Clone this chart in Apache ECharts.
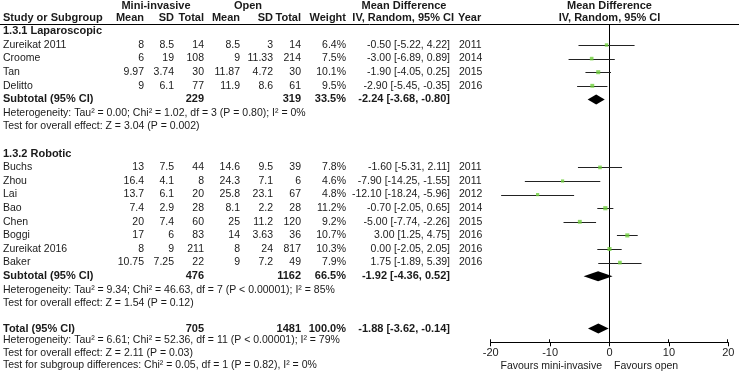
<!DOCTYPE html>
<html><head><meta charset="utf-8">
<script src="https://cdn.jsdelivr.net/npm/echarts@6.0.0/dist/echarts.min.js"></script>
<style>html,body{margin:0;padding:0;background:#fff}#c{width:739px;height:379px}</style>
</head><body><div id="c"></div>
<script>
// ---- data ----
var studies = ['Zureikat 2011','Croome','Tan','Delitto','Buchs','Zhou','Lai','Bao','Chen','Boggi','Zureikat 2016','Baker'];
var studyGroup = [0,0,0,0,1,1,1,1,1,1,1,1];
var miMean = [8,6,9.97,9,13,16.4,13.7,7.4,20,17,8,10.75];
var miSD = [8.5,19,3.74,6.1,7.5,4.1,6.1,2.9,7.4,6,9,7.25];
var miTotal = [14,108,30,77,44,8,20,28,60,83,211,22];
var opMean = [8.5,9,11.87,11.9,14.6,24.3,25.8,8.1,25,14,8,9];
var opSD = [3,11.33,4.72,8.6,9.5,7.1,23.1,2.2,11.2,3.63,24,7.2];
var opTotal = [14,214,30,61,39,6,67,28,120,36,817,49];
var weights = [6.4,7.5,10.1,9.5,7.8,4.6,4.8,11.2,9.2,10.7,10.3,7.9];
var md = [-0.50,-3.00,-1.90,-2.90,-1.60,-7.90,-12.10,-0.70,-5.00,3.00,0.00,1.75];
var ciLow = [-5.22,-6.89,-4.05,-5.45,-5.31,-14.25,-18.24,-2.05,-7.74,1.25,-2.05,-1.89];
var ciHigh = [4.22,0.89,0.25,-0.35,2.11,-1.55,-5.96,0.65,-2.26,4.75,2.05,5.39];
var years = [2011,2014,2015,2016,2011,2011,2012,2014,2015,2016,2016,2016];

var groupNames = ['1.3.1 Laparoscopic','1.3.2 Robotic'];
var groupMiTotal = [229,476];
var groupOpTotal = [319,1162];
var groupWeight = [33.5,66.5];
var groupMD = [-2.24,-1.92];
var groupLow = [-3.68,-4.36];
var groupHigh = [-0.80,0.52];
var groupHet = ['Heterogeneity: Tau\u00b2 = 0.00; Chi\u00b2 = 1.02, df = 3 (P = 0.80); I\u00b2 = 0%',
                'Heterogeneity: Tau\u00b2 = 9.34; Chi\u00b2 = 46.63, df = 7 (P < 0.00001); I\u00b2 = 85%'];
var groupTest = ['Test for overall effect: Z = 3.04 (P = 0.002)','Test for overall effect: Z = 1.54 (P = 0.12)'];

var totalMiTotal = 705, totalOpTotal = 1481, totalWeight = 100.0;
var totalMD = -1.88, totalLow = -3.62, totalHigh = -0.14;
var totalNotes = ['Heterogeneity: Tau\u00b2 = 6.61; Chi\u00b2 = 52.36, df = 11 (P < 0.00001); I\u00b2 = 79%',
                  'Test for overall effect: Z = 2.11 (P = 0.03)',
                  'Test for subgroup differences: Chi\u00b2 = 0.05, df = 1 (P = 0.82), I\u00b2 = 0%'];
var xTicks = [-20,-10,0,10,20];
var favours = ['Favours mini-invasive','Favours open'];

// ---- layout (row indices) ----
var FONT = 'Liberation Sans, Arial, sans-serif';
var FS = 10.5, FSB = 11;
var rows = [];
var r = 0;
var studyRow = [], groupRow = [];
for (var g = 0; g < groupNames.length; g++) {
  rows.push({kind:'head', row:r, g:g}); r++;
  for (var i = 0; i < studies.length; i++) if (studyGroup[i] === g) { studyRow[i] = r; rows.push({kind:'study', row:r, i:i}); r++; }
  groupRow[g] = r; rows.push({kind:'sub', row:r, g:g}); r++;
  rows.push({kind:'note', row:r, text:groupHet[g]}); r++;
  rows.push({kind:'note', row:r, text:groupTest[g]}); r++;
  r++;
}
var totalRow = 21.85;
var noteRows = [22.72, 23.64, 24.56];

var fmt2 = function(v){ return v.toFixed(2); };
var ciText = function(m,l,h){ return fmt2(m)+' ['+fmt2(l)+', '+fmt2(h)+']'; };

var chart = echarts.init(document.getElementById('c'), null, {renderer:'canvas'});
var YMIN = -0.544, YMAX = 22.86;

var ciData = studies.map(function(s,i){ return [ciLow[i], ciHigh[i], studyRow[i]]; });
var ptData = studies.map(function(s,i){ return [md[i], studyRow[i], weights[i]]; });
var diaData = groupNames.map(function(n,g){ return [groupLow[g], groupMD[g], groupHigh[g], groupRow[g]]; });
diaData.push([totalLow, totalMD, totalHigh, totalRow]);

chart.setOption({
  animation:false,
  grid:{left:490.7, right:739-728.3, top:24, bottom:379-342.3},
  xAxis:{
    type:'value', min:-20, max:20, interval:10,
    axisLine:{onZero:false, lineStyle:{color:'#000', width:1}},
    axisTick:{show:true, length:4, lineStyle:{color:'#000'}},
    axisLabel:{color:'#222', fontFamily:FONT, fontSize:11, margin:5, formatter:function(v){return String(v);}},
    splitLine:{show:false}
  },
  yAxis:{type:'value', inverse:true, min:YMIN, max:YMAX, show:false},
  series:[
    {type:'custom', data:[[0]], clip:false, renderItem:function(params, api){
      var a = api.coord([0, YMIN]);
      var b = api.coord([0, YMAX]);
      var x = Math.round(a[0]) - 0.5;
      return {type:'line', shape:{x1:x, y1:a[1], x2:x, y2:b[1]}, style:{stroke:'#000', lineWidth:1}};
    }},
    {type:'custom', data:xTicks.map(function(t){return [t];}), clip:false, renderItem:function(params, api){
      var a = api.coord([api.value(0), YMAX]);
      var x = Math.round(a[0]) - 0.5;
      return {type:'line', shape:{x1:x, y1:a[1]-3, x2:x, y2:a[1]}, style:{stroke:'#000', lineWidth:1}};
    }},
    {type:'custom', data:ciData, renderItem:function(params, api){
      var a = api.coord([api.value(0), api.value(2)]);
      var b = api.coord([api.value(1), api.value(2)]);
      var y = Math.round(a[1]) + 0.5;
      return {type:'line', shape:{x1:a[0], y1:y, x2:b[0], y2:y}, style:{stroke:'#222', lineWidth:1}};
    }},
    {type:'scatter', data:ptData, symbol:'rect', symbolSize:function(v){ return 2.5 + v[2]*0.15; },
     itemStyle:{color:'#6fd03c'}},
    {type:'custom', data:diaData, renderItem:function(params, api){
      var l = api.coord([api.value(0), api.value(3)]);
      var m = api.coord([api.value(1), api.value(3)]);
      var h = api.coord([api.value(2), api.value(3)]);
      var hh = 5;
      return {type:'polygon', shape:{points:[[l[0],l[1]],[m[0],m[1]-hh],[h[0],h[1]],[m[0],m[1]+hh]]}, style:{fill:'#000'}};
    }}
  ]
});

function py(row){ return chart.convertToPixel({yAxisIndex:0}, row); }
var els = [];
function txt(s, x, y, align, bold){
  els.push({type:'text', x:x, y:y, silent:true, style:{text:String(s), x:0, y:0, fill:'#1a1a1a',
    font:(bold?'bold '+FSB:FS)+'px '+FONT, textAlign:align||'left', textVerticalAlign:'middle'}});
}
var cx = {name:3, miMean:144, miSD:174, miTot:204, opMean:240, opSD:273, opTot:301, w:346, ci:450, year:459};
txt('Mini-invasive', 156, 6, 'center', true);
txt('Open', 248, 6, 'center', true);
txt('Mean Difference', 404, 6, 'center', true);
txt('Mean Difference', 609.5, 6, 'center', true);
txt('Study or Subgroup', cx.name, 18, 'left', true);
txt('Mean', cx.miMean, 18, 'right', true);
txt('SD', cx.miSD, 18, 'right', true);
txt('Total', cx.miTot, 18, 'right', true);
txt('Mean', cx.opMean, 18, 'right', true);
txt('SD', cx.opSD, 18, 'right', true);
txt('Total', cx.opTot, 18, 'right', true);
txt('Weight', cx.w, 18, 'right', true);
txt('IV, Random, 95% CI', 454, 18, 'right', true);
txt('Year', 458, 18, 'left', true);
txt('IV, Random, 95% CI', 609.5, 18, 'center', true);
els.push({type:'line', silent:true, shape:{x1:0, y1:24.5, x2:739, y2:24.5}, style:{stroke:'#000', lineWidth:1}});

rows.forEach(function(o){
  var y = py(o.row);
  if (o.kind === 'head') txt(groupNames[o.g], cx.name, y, 'left', true);
  else if (o.kind === 'study') {
    var i = o.i;
    txt(studies[i], cx.name, y, 'left');
    txt(miMean[i], cx.miMean, y, 'right');
    txt(miSD[i], cx.miSD, y, 'right');
    txt(miTotal[i], cx.miTot, y, 'right');
    txt(opMean[i], cx.opMean, y, 'right');
    txt(opSD[i], cx.opSD, y, 'right');
    txt(opTotal[i], cx.opTot, y, 'right');
    txt(weights[i].toFixed(1)+'%', cx.w, y, 'right');
    txt(ciText(md[i], ciLow[i], ciHigh[i]), cx.ci, y, 'right');
    txt(years[i], cx.year, y, 'left');
  } else if (o.kind === 'sub') {
    var g = o.g;
    txt('Subtotal (95% CI)', cx.name, y, 'left', true);
    txt(groupMiTotal[g], cx.miTot, y, 'right', true);
    txt(groupOpTotal[g], cx.opTot, y, 'right', true);
    txt(groupWeight[g].toFixed(1)+'%', cx.w, y, 'right', true);
    txt(ciText(groupMD[g], groupLow[g], groupHigh[g]), cx.ci, y, 'right', true);
  } else if (o.kind === 'note') {
    txt(o.text, cx.name, y, 'left');
  }
});
var ty = py(totalRow);
txt('Total (95% CI)', cx.name, ty, 'left', true);
txt(totalMiTotal, cx.miTot, ty, 'right', true);
txt(totalOpTotal, cx.opTot, ty, 'right', true);
txt(totalWeight.toFixed(1)+'%', cx.w, ty, 'right', true);
txt(ciText(totalMD, totalLow, totalHigh), cx.ci, ty, 'right', true);
totalNotes.forEach(function(s, k){ txt(s, cx.name, py(noteRows[k]), 'left'); });
txt(favours[0], 602, 366, 'right');
txt(favours[1], 614, 366, 'left');

chart.setOption({graphic:{elements:els}});
</script></body></html>
